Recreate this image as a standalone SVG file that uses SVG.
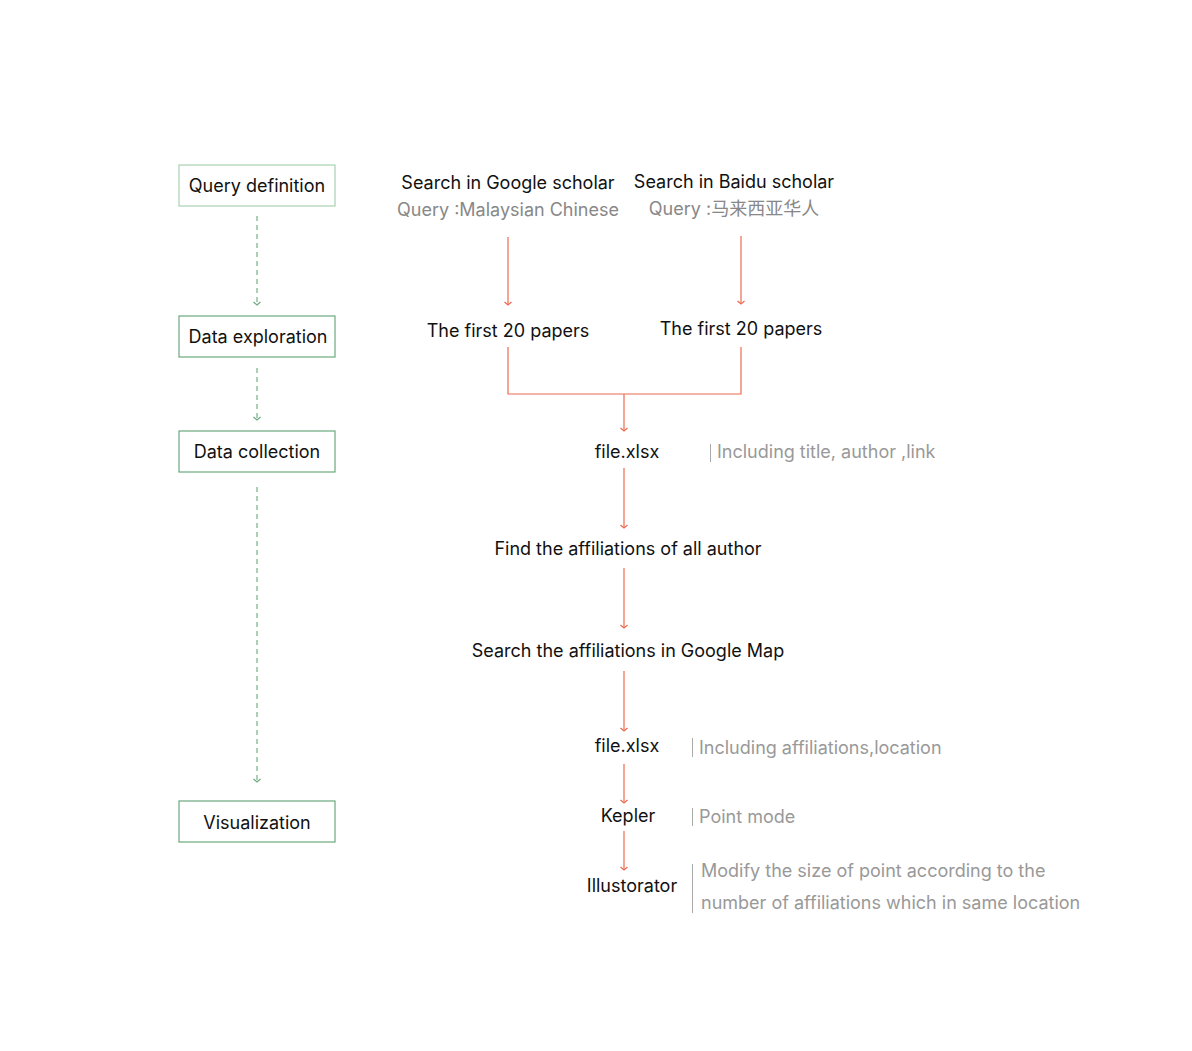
<svg xmlns="http://www.w3.org/2000/svg" width="1192" height="1051" viewBox="0 0 1192 1051">
<style>
text{font-family:Inter,"Noto Sans CJK SC",sans-serif;font-size:18px;fill:#111}
.c{text-anchor:middle}
.g{fill:#999}
.q{fill:#888}
.box{fill:#fff;stroke:#6aa87e;stroke-width:1.2}
.dash{stroke:#6aa87e;stroke-width:1.1;stroke-dasharray:5 4;fill:none}
.red{stroke:#ee6a4f;stroke-width:1.2;fill:none}
.bar{stroke:#aaa;stroke-width:1}
</style>
<defs>
<marker id="ag" markerWidth="10" markerHeight="8" refX="5" refY="6" markerUnits="userSpaceOnUse" viewBox="0 0 10 8"><path d="M1.5,3 L5,6 L8.5,3" fill="none" stroke="#6aa87e" stroke-width="1.2"/></marker>
<marker id="ar" markerWidth="10" markerHeight="8" refX="5" refY="6" markerUnits="userSpaceOnUse" viewBox="0 0 10 8"><path d="M1.5,3 L5,6 L8.5,3" fill="none" stroke="#ee6a4f" stroke-width="1.2"/></marker>
</defs>
<rect width="1192" height="1051" fill="#fff"/>
<g id="connectors">
<path class="dash" d="M257,216 V305" marker-end="url(#ag)"/>
<path class="dash" d="M257,368 V420" marker-end="url(#ag)"/>
<path class="dash" d="M257,487 V782" marker-end="url(#ag)"/>
<path class="red" d="M508,237 V305" marker-end="url(#ar)"/>
<path class="red" d="M741,236 V304" marker-end="url(#ar)"/>
<path class="red" d="M508,347 V394 H741 V347"/>
<path class="red" d="M624,394 V431" marker-end="url(#ar)"/>
<path class="red" d="M624,468 V528" marker-end="url(#ar)"/>
<path class="red" d="M624,568 V628" marker-end="url(#ar)"/>
<path class="red" d="M624,671 V731" marker-end="url(#ar)"/>
<path class="red" d="M624,764 V803" marker-end="url(#ar)"/>
<path class="red" d="M624,831 V870" marker-end="url(#ar)"/>
</g>
<g id="n-query"><rect class="box" x="179" y="165" width="156" height="41" style="stroke:#a8d2b2"/><text class="c" x="257" y="192">Query definition</text></g>
<g id="n-explore"><rect class="box" x="179" y="316" width="156" height="41"/><text class="c" x="258" y="343">Data exploration</text></g>
<g id="n-collect"><rect class="box" x="179" y="431" width="156" height="41"/><text class="c" x="257" y="458">Data collection</text></g>
<g id="n-vis"><rect class="box" x="179" y="801" width="156" height="41"/><text class="c" x="257" y="829">Visualization</text></g>
<g id="n-google"><text class="c" x="508" y="189">Search in Google scholar</text><text class="c q" x="508" y="216">Query :Malaysian Chinese</text></g>
<g id="n-baidu"><text class="c" x="734" y="188">Search in Baidu scholar</text><text class="c q" x="734" y="215">Query :马来西亚华人</text></g>
<g id="n-papers1"><text class="c" x="508" y="337">The first 20 papers</text></g>
<g id="n-papers2"><text class="c" x="741" y="335">The first 20 papers</text></g>
<g id="n-file1"><text class="c" x="627" y="458">file.xlsx</text><line class="bar" x1="710.5" y1="444" x2="710.5" y2="462"/><text class="g" x="717" y="458">Including title, author ,link</text></g>
<g id="n-find"><text class="c" x="628" y="555">Find the affiliations of all author</text></g>
<g id="n-map"><text class="c" x="628" y="657">Search the affiliations in Google Map</text></g>
<g id="n-file2"><text class="c" x="627" y="752">file.xlsx</text><line class="bar" x1="692.5" y1="738" x2="692.5" y2="757"/><text class="g" x="699" y="754">Including affiliations,location</text></g>
<g id="n-kepler"><text class="c" x="628" y="822">Kepler</text><line class="bar" x1="692.5" y1="808" x2="692.5" y2="826"/><text class="g" x="699" y="823">Point mode</text></g>
<g id="n-illu"><text class="c" x="632" y="892">Illustorator</text><line class="bar" x1="692.5" y1="864" x2="692.5" y2="913"/><text class="g" x="701" y="877">Modify the size of point according to the</text><text class="g" x="701" y="909">number of affiliations which in same location</text></g>
</svg>
